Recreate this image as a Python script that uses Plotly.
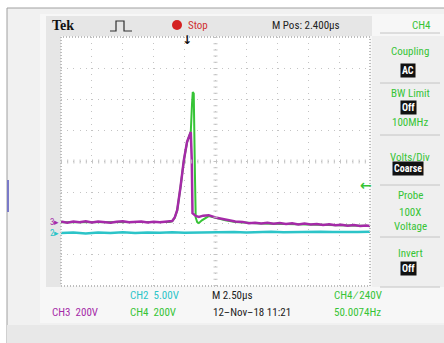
import plotly.graph_objects as go

# ---------------- data ----------------
# time in microseconds relative to trigger point; voltages in volts
ch3_t = [-10.1, -9.6, -9.1, -8.6, -8.1, -7.6, -7.1, -6.6, -6.1, -5.6, -5.1, -4.6, -4.1, -3.6,
         -3.1, -2.6, -2.1, -1.6, -1.3, -1.1, -0.90, -0.70, -0.43, -0.16, 0.10, 0.30, 0.40, 0.48, 0.54,
         0.80, 1.05, 1.40, 1.85, 2.39, 2.80, 3.20, 4.00, 4.6, 5.1, 5.6, 6.1, 6.6, 7.1, 7.6, 8.1,
         8.6, 9.1, 9.6, 10.1, 10.6, 11.1, 11.6, 12.1, 12.6, 13.1, 13.6, 14.1, 14.6, 14.9]
ch3_v = [4, -3, 5, 0, 6, -2, 4, 1, -4, 3, 6, -1, 2, 5,
         -2, 3, 0, 4, 3, 8, 30, 77, 227, 399, 516, 559, 580, 399, 58,
         40, 34, 42, 45, 30, 24, 14, 4, 2, -6, -3, -8, -4, -10, -6, -12,
         -7, -14, -9, -15, -12, -18, -13, -20, -16, -22, -18, -24, -21, -25]

ch4_t = [-10.1, -7.6, -5.1, -2.6, -1.3, -1.1, -0.90, -0.70, -0.43, -0.16, 0.10, 0.30, 0.40, 0.50,
         0.56, 0.64, 0.70, 0.74, 0.80, 0.92, 1.05, 1.30, 1.85, 2.39, 3.20, 4.00, 6.0, 9.0, 12.0, 14.9]
ch4_v = [0, 2, 1, 2, 2, 7, 28, 75, 225, 397, 514, 557, 580, 760,
         836, 826, 611, 290, 30, 0, -6, 12, 39, 28, 12, 2, -8, -14, -19, -24]

ch2_t = [-10.1, -9.1, -8.1, -7.1, -6.1, -5.1, -4.1, -3.1, -2.1, -1.1, -0.1, 0.9, 1.9,
         2.9, 3.9, 4.9, 5.9, 6.9, 7.9, 8.9, 9.9, 10.9, 11.9, 12.9, 13.9, 14.9]
ch2_v = [0.0, 0.1, -0.05, 0.08, 0.0, 0.12, 0.02, 0.1, 0.05, 0.14, 0.06, 0.1, 0.2,
         0.12, 0.18, 0.1, 0.16, 0.2, 0.12, 0.18, 0.14, 0.2, 0.16, 0.22, 0.18, 0.2]

# channel settings (volts/div and ground marker position in divisions)
CH3_VDIV, CH3_GND = 200, -1.95
CH4_VDIV, CH4_GND = 200, -1.95
CH2_VDIV, CH2_GND = 5, -2.30
TIME_DIV, M_POS = 2.5, 2.4

# ---------------- layout geometry ----------------
W, H = 444, 343
L, R, T, B = 61, 74, 37, 57
PW, PH = W - L - R, H - T - B


def X(p):
    return (p - L) / PW


def Y(p):
    return (H - B - p) / PH


def div(vals, vdiv, gnd):
    return [v / vdiv + gnd for v in vals]


MAG = "#a52aa8"
GRN = "#36c436"
CYN = "#2cc4c8"
FONT = "Liberation Sans Narrow, Arial Narrow, Roboto Condensed, Liberation Sans, sans-serif"

fig = go.Figure()
fig.add_trace(go.Scatter(x=ch2_t, y=div(ch2_v, CH2_VDIV, CH2_GND), mode="lines",
                         line=dict(color=CYN, width=2.5), hoverinfo="skip"))
fig.add_trace(go.Scatter(x=ch4_t, y=div(ch4_v, CH4_VDIV, CH4_GND), mode="lines",
                         line=dict(color=GRN, width=2), hoverinfo="skip"))
fig.add_trace(go.Scatter(x=ch3_t, y=div(ch3_v, CH3_VDIV, CH3_GND), mode="lines",
                         line=dict(color=MAG, width=2.5), hoverinfo="skip"))

xr = [M_POS - 5 * TIME_DIV, M_POS + 5 * TIME_DIV]

shapes = []


def rect(x0, y0, x1, y1, fill, line=None, lw=0, layer="below"):
    shapes.append(dict(type="rect", xref="paper", yref="paper", x0=X(x0), x1=X(x1),
                       y0=Y(y1), y1=Y(y0), fillcolor=fill,
                       line=dict(color=line or fill, width=lw), layer=layer))


rect(7, 8, 446, 345, "#f1f1f1", "#a0a0a0", 1)
rect(40, 14, 444, 323, "#f7f7f7")
rect(46, 16, 372, 36, "#e6e6e6")
rect(46, 36, 61, 287, "#e6e6e6")
rect(372, 36, 444, 287, "#efefef")
rect(61, 37, 370, 286, "#ffffff")
rect(7, 325, 444, 343, "#e8e8e8")

# left blue tick
shapes.append(dict(type="line", xref="paper", yref="paper", x0=X(8), x1=X(8), y0=Y(180), y1=Y(212),
                   line=dict(color="#7a7ac8", width=2)))
# menu separators
for yy in [33, 83, 135, 185, 237, 287]:
    shapes.append(dict(type="line", xref="paper", yref="paper", x0=X(380), x1=X(440), y0=Y(yy), y1=Y(yy),
                       line=dict(color="#c4c4c4", width=1)))
# pulse symbol
path = "M {} {} L {} {} L {} {} L {} {} L {} {} L {} {}".format(
    X(110), Y(31), X(116), Y(31), X(116), Y(21), X(124), Y(21), X(124), Y(31), X(132), Y(31))
shapes.append(dict(type="path", xref="paper", yref="paper", path=path, line=dict(color="#303030", width=1.2)))
# red stop dot
shapes.append(dict(type="circle", xref="paper", yref="paper", x0=X(172), x1=X(182), y0=Y(30), y1=Y(20),
                   fillcolor="#d42020", line=dict(color="#d42020", width=0)))
# graticule border + center lines with ticks
shapes.append(dict(type="rect", xref="paper", yref="paper", x0=0, x1=1, y0=0, y1=1,
                   line=dict(color="#bdbdbd", width=2, dash="1px,2px")))
shapes.append(dict(type="line", xref="x", yref="y", x0=xr[0], x1=xr[1], y0=0, y1=0,
                   line=dict(color="#c4c4c4", width=4, dash="1px,5.2px")))
shapes.append(dict(type="line", xref="x", yref="y", x0=M_POS, x1=M_POS, y0=-4, y1=4,
                   line=dict(color="#c4c4c4", width=4, dash="1px,5.2px")))

ann = []


def txt(s, x, y, color="#222222", size=11, anchor="left", family=FONT, bg=None):
    d = dict(text=s, xref="paper", yref="paper", x=X(x), y=Y(y), xanchor=anchor, yanchor="middle",
             showarrow=False, font=dict(color=color, size=size, family=family))
    if bg:
        d.update(bgcolor=bg, borderpad=1)
    ann.append(d)


txt("<b>Tek</b>", 50, 25, "#111111", 14, family="Liberation Serif, DejaVu Serif, serif")
txt("Stop", 186, 25, "#d03030", 11)
txt("M Pos: 2.400\u00b5s", 270, 25, "#222222", 11)
txt("CH4", 421, 25, GRN, 11, "center")
for s, yy in [("Coupling", 52), ("BW Limit", 93), ("100MHz", 122), ("Volts/Div", 157),
              ("Probe", 195), ("100X", 212), ("Voltage", 227), ("Invert", 253)]:
    txt(s, 410, yy, GRN, 11, "center")
for s, yy in [("AC", 70), ("Off", 107), ("Coarse", 168), ("Off", 268)]:
    txt("<b>" + s + "</b>", 408, yy, "#ffffff", 10, "center", bg="#111111")
txt("CH2  5.00V", 128, 295, CYN, 11)
txt("CH3  200V", 50, 312, MAG, 11)
txt("CH4  200V", 128, 312, GRN, 11)
txt("M 2.50\u00b5s", 210, 295, "#222222", 11)
txt("12\u2013Nov\u201318 11:21", 211, 312, "#222222", 11)
txt("CH4 \u2215 240V", 332, 295, GRN, 11)
txt("50.0074Hz", 332, 312, GRN, 11)
txt("3\u25b8", 61, 222, MAG, 9, "right")
txt("2\u25b8", 61, 233, CYN, 9, "right")
txt("<b>\u2193</b>", 187, 40, "#111111", 12, "center", family="DejaVu Sans")
txt("<b>\u2190</b>", 366, 185, GRN, 14, "center", family="DejaVu Sans")

fig.update_layout(
    width=W, height=H, margin=dict(l=L, r=R, t=T, b=B),
    paper_bgcolor="#ffffff", plot_bgcolor="rgba(0,0,0,0)",
    showlegend=False, shapes=shapes, annotations=ann,
    font=dict(family=FONT),
)
fig.update_xaxes(range=xr, tick0=M_POS, dtick=TIME_DIV, showgrid=True, gridcolor="#c4c4c4",
                 griddash="1px,5.2px", gridwidth=1, zeroline=False, showticklabels=False,
                 showline=False, ticks="", fixedrange=True)
fig.update_yaxes(range=[-4, 4], tick0=0, dtick=1, showgrid=True, gridcolor="#c4c4c4",
                 griddash="1px,5.2px", gridwidth=1, zeroline=False, showticklabels=False,
                 showline=False, ticks="", fixedrange=True)

fig.write_html("out.html", config={"displayModeBar": False})
